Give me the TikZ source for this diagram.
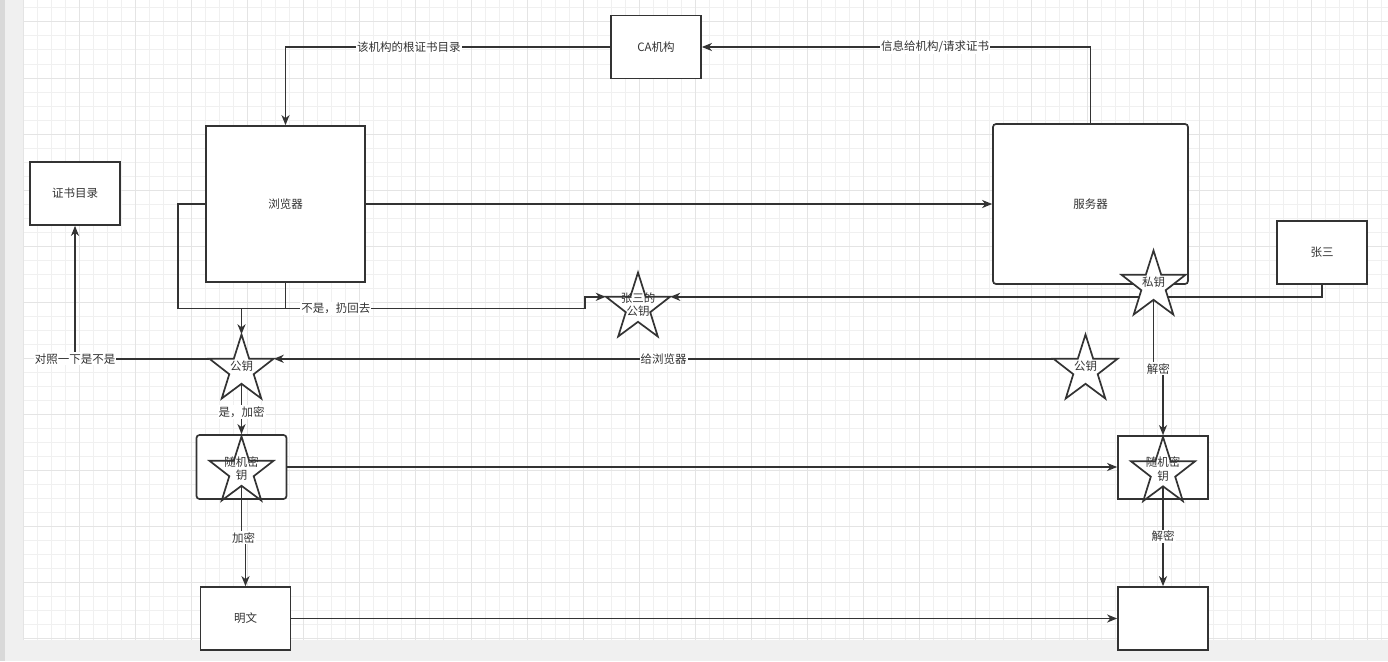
\documentclass[tikz,border=0pt]{standalone}
\usepackage{fontspec}
\setmainfont{Noto Sans CJK SC}
\usetikzlibrary{arrows.meta,calc}

\definecolor{linie}{HTML}{333333}
\definecolor{rasterhell}{HTML}{F0F0F0}
\definecolor{rasterdunkel}{HTML}{E4E4E4}
\definecolor{randhell}{HTML}{F0F0F0}
\definecolor{randdunkel}{HTML}{D9D9D9}

\pgfdeclarelayer{raster}
\pgfdeclarelayer{linien}
\pgfsetlayers{raster,linien,main}

\tikzset{
  netz/.style={draw=rasterhell, line width=1pt},
  netzhaupt/.style={draw=rasterdunkel, line width=1pt},
  kasten/.style={draw=linie, line width=1.7pt, fill=white, inner sep=0pt, minimum width=90, minimum height=63},
  verb/.style={draw=linie, line width=1.7pt},
  pfeil/.style={verb, -{Stealth[length=10pt,width=8pt,inset=3pt]}},
  beschr/.style={fill=white, inner sep=1pt},
  sternlinie/.style={fill=white, draw=linie, line width=1.7pt},
  sterntext/.style={minimum width=64, minimum height=64, inner sep=0pt, align=center},
}

% Stern: Name, Mittelpunkt, Text
\newcommand{\schluessel}[3]{%
  \begin{scope}[shift={#2}]
    \filldraw[sternlinie] (-32,-7.7) -- (-7.7,-7.7) -- (0,-32) -- (7.7,-7.7) -- (32,-7.7)
      -- (12.2,7.7) -- (19.8,32) -- (0,17.3) -- (-19.8,32) -- (-12.2,7.7) -- cycle;
  \end{scope}
  \node[sterntext] (#1) at #2 {#3};
}

\begin{document}
\begin{tikzpicture}[x=1pt, y=-1pt, every node/.style={font=\fontsize{11.5}{13.5}\selectfont, text=linie}]
  \useasboundingbox (0,0) rectangle (1388,661);

  % Hintergrund
  \begin{pgfonlayer}{raster}
    \fill[white] (0,0) rectangle (1388,661);
    \foreach \i in {0,...,97} \draw[netz] ({23+14*\i},0) -- ({23+14*\i},640);
    \foreach \j in {0,...,45} \draw[netz] (23,{8+14*\j}) -- (1388,{8+14*\j});
    \foreach \i in {0,...,24} \draw[netzhaupt] ({23+56*\i},0) -- ({23+56*\i},640);
    \foreach \j in {0,...,11} \draw[netzhaupt] (23,{22+56*\j}) -- (1388,{22+56*\j});
    \fill[randhell] (0,640) rectangle (1388,661);
    \fill[randhell] (0,0) rectangle (23,661);
    \fill[randdunkel] (0,0) rectangle (5,661);
  \end{pgfonlayer}

  % Kaesten
  \node[kasten] (ca) at (656,47) {CA机构};
  \node[kasten, minimum width=159, minimum height=156] (br) at (285.5,204) {浏览器};
  \node[kasten] (cert) at (75,193.5) {证书目录};
  \node[kasten, rounded corners=3pt, minimum width=195, minimum height=160] (srv) at (1090.5,204) {服务器};
  \node[kasten] (zs) at (1322,252.5) {张三};
  \node[kasten, rounded corners=3pt, minimum height=64] (rkL) at (241.5,467) {};
  \node[kasten] (rkR) at (1163,467.5) {};
  \node[kasten] (pt) at (245.5,618.5) {明文};
  \node[kasten] (ct) at (1163,618.5) {};

  % Schluessel
  \schluessel{zspk}{(638,304.5)}{张三的\\公钥}
  \schluessel{sk}{(1153.5,282.5)}{私钥}
  \schluessel{pkL}{(241.5,366.5)}{公钥}
  \schluessel{pkR}{(1085.5,366.5)}{公钥}
  \schluessel{rkLs}{(241.5,468.5)}{随机密\\钥}
  \schluessel{rkRs}{(1163,469)}{随机密\\钥}

  % Knickpunkte
  \coordinate (gabel) at (241.5,308.5);
  \coordinate (knick) at (585,308.5);

  % Verbindungen
  \begin{pgfonlayer}{linien}
    \draw[pfeil] (zs.south) |- ([yshift=7.7pt]zspk.east);   % unter dem Stern
  \end{pgfonlayer}
  \draw[pfeil] (ca.west) -| node[beschr, pos=0.31] {该机构的根证书目录} (br.north);
  \draw[pfeil] (srv.north) |- node[beschr, pos=0.7] {信息给机构/请求证书} (ca.east);
  \draw[pfeil] (br.east) -- (srv.west);
  \draw[pfeil] (br.south) |- node[beschr, pos=0.584] {不是，扔回去} (knick) |- ([yshift=7.7pt]zspk.west);
  \draw[verb] (br.west) -- ++(-27,0) |- (br.south |- gabel);
  \draw[pfeil] (gabel) -- (pkL.north);
  \draw[pfeil] ([yshift=7.7pt]pkL.west) -| node[beschr, pos=0.5] {对照一下是不是} (cert.south);
  \draw[pfeil] ([yshift=7.7pt]pkR.west) -- node[beschr] {给浏览器} ([yshift=7.7pt]pkL.east);
  \draw[pfeil] ([yshift=-17.3pt]pkL.center) -- node[beschr, pos=0.56] {是，加密} (rkL.north);
  \draw[pfeil] (rkL.east) -- (rkL.east -| rkR.west);
  \draw[pfeil] ([yshift=-17.3pt]rkLs.center) -- ++(0,52) -| node[beschr, pos=0.25] {加密} (pt.north);
  \draw[pfeil] (pt.east) -- (ct.west);
  \draw[pfeil] ([yshift=-17.3pt]sk.center) -- ++(0,69) -| node[beschr, pos=0.25] {解密} (rkR.north);
  \draw[pfeil] ([yshift=-17.3pt]rkRs.center) -- node[beschr] {解密} (ct.north);
\end{tikzpicture}
\end{document}
